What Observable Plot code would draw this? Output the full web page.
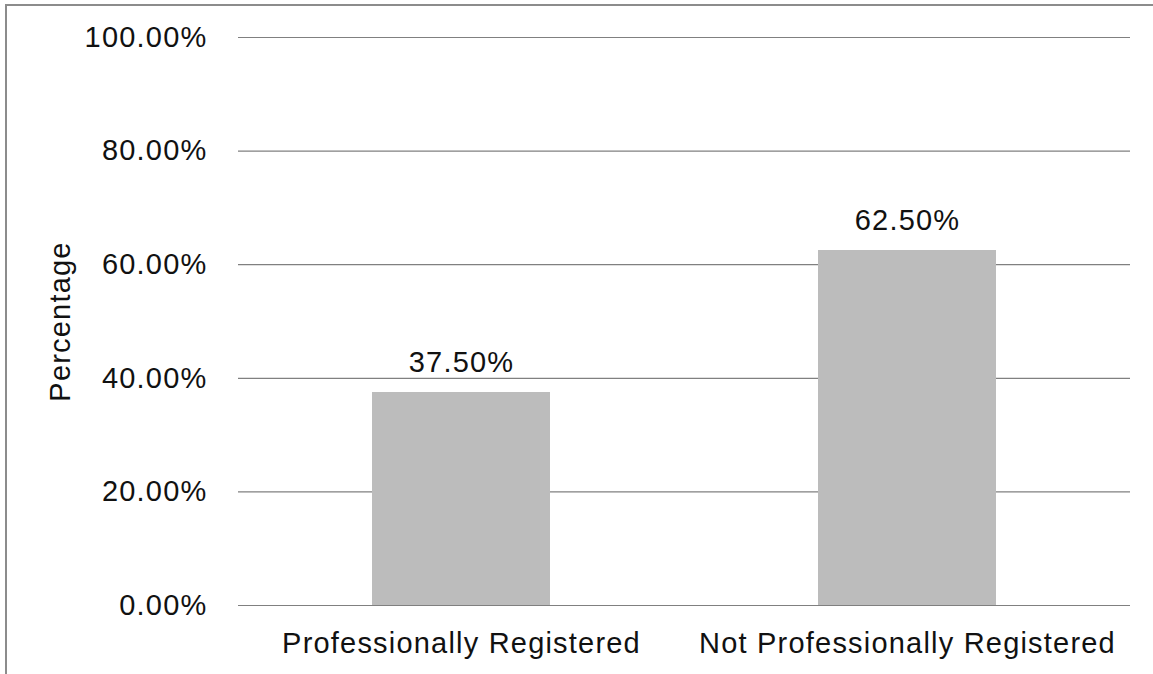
<!DOCTYPE html>
<html>
<head>
<meta charset="utf-8">
<script src="https://cdn.jsdelivr.net/npm/d3@7"></script>
<script src="https://cdn.jsdelivr.net/npm/@observablehq/plot@0.6"></script>
<style>
  html, body { margin: 0; padding: 0; background: #fff; }
  #wrap { position: relative; width: 1153px; height: 674px; overflow: hidden; }
  #frame { position: absolute; left: 5px; top: 4px; right: 0; bottom: 0;
           border-left: 2px solid #8c8c8c; border-top: 2px solid #8c8c8c; pointer-events: none; }
  #chart { position: absolute; left: 0; top: 0; }
  svg { font-family: "Liberation Sans", Arial, sans-serif; }
  svg text { letter-spacing: 1.2px; }
</style>
</head>
<body>
<div id="wrap"><div id="chart"></div><div id="frame"></div></div>
<script>
const categories = ["Professionally Registered", "Not Professionally Registered"];
const percentages = [37.5, 62.5];
const yTicks = [0, 20, 40, 60, 80, 100];
const yLabel = "Percentage";

const data = categories.map((c, i) => ({category: c, value: percentages[i]}));

const chart = Plot.plot({
  width: 1153,
  height: 674,
  marginLeft: 238,
  marginRight: 23,
  marginTop: 37,
  marginBottom: 69,
  style: {fontFamily: "Liberation Sans, Arial, sans-serif", fontSize: "29px", color: "#000", background: "transparent"},
  x: {domain: categories, paddingInner: 0.6, paddingOuter: 0.3, label: null},
  y: {domain: [0, 100], label: null},
  marks: [
    Plot.gridY(yTicks, {stroke: "#808080", strokeOpacity: 1, strokeWidth: 1.2}),
    Plot.barY(data, {x: "category", y: "value", fill: "#bcbcbc"}),
    Plot.ruleX([0], {frameAnchor: "left", stroke: "#808080", strokeWidth: 1.2}),
    Plot.axisY(yTicks, {tickSize: 0, tickPadding: 31, tickFormat: d => d.toFixed(2) + "%", fontSize: 29, fill: "#111", label: null}),
    Plot.axisX({tickSize: 0, tickPadding: 27, fontSize: 29, fill: "#111", label: null}),
    Plot.text(data, {x: "category", y: "value", text: d => d.value.toFixed(2) + "%", lineAnchor: "bottom", dy: -21, fontSize: 29, fill: "#111"}),
    Plot.text([yLabel], {frameAnchor: "left", dx: -178, rotate: -90, textAnchor: "middle", fontSize: 29, fill: "#111", text: d => d})
  ]
});
document.getElementById("chart").appendChild(chart);
</script>
</body>
</html>
